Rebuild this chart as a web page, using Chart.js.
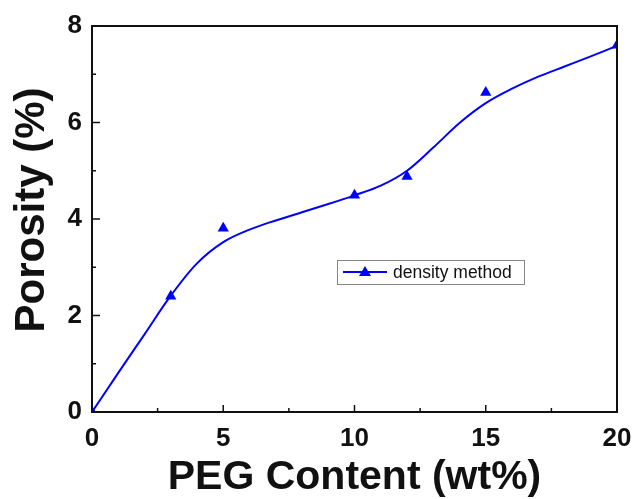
<!DOCTYPE html>
<html>
<head>
<meta charset="utf-8">
<script src="https://cdn.jsdelivr.net/npm/chart.js@4.4.0/dist/chart.umd.min.js"></script>
<style>
  html, body { margin: 0; padding: 0; background: #fff; }
</style>
</head>
<body>
<canvas id="chart1" width="637" height="499"></canvas>
<script>
// measured points (density method)
const pegContent = [0, 3, 5, 10, 12, 15, 20];
const porosity = [0, 2.4, 3.81, 4.49, 4.88, 6.62, 7.6];

// smooth curve
const fitX = [0, 1, 2, 3, 4, 5, 6, 7, 8, 9, 10, 11, 12, 13, 14, 15, 16, 17, 18, 19, 20];
const fitY = [0, 0.81, 1.61, 2.41, 3.08, 3.52, 3.78, 3.97, 4.14, 4.31, 4.49, 4.69, 5.0, 5.48, 5.99, 6.4, 6.7, 6.95, 7.16, 7.37, 7.59];

const xTicks = [0, 5, 10, 15, 20];
const yTicks = [0, 2, 4, 6, 8];

const legendLabel = "density method";
const xTitle = "PEG Content (wt%)";
const yTitle = "Porosity (%)";

const blue = "#0000FF";
const fontFamily = "'Liberation Sans', Arial, sans-serif";

let measured = pegContent.map(function (x, i) { return { x: x, y: porosity[i] }; });
let curve = fitX.map(function (x, i) { return { x: x, y: fitY[i] }; });

// frame, inward ticks, y title and the legend box
const framePlugin = {
    id: "frame",
    afterDraw(chart) {
        const ctx = chart.ctx;
        const a = chart.chartArea;
        const xs = chart.scales.x;
        const ys = chart.scales.y;
        ctx.save();
        ctx.strokeStyle = "#111";
        ctx.lineWidth = 2;
        ctx.beginPath();
        ctx.moveTo(a.left, a.top);
        ctx.lineTo(a.right, a.top);
        ctx.lineTo(a.right, a.bottom);
        ctx.stroke();

        // major + minor ticks pointing inward
        ctx.lineWidth = 1.5;
        ctx.beginPath();
        for (let i = 0; i < xTicks.length; i++) {
            let px = xs.getPixelForValue(xTicks[i]);
            ctx.moveTo(px, a.bottom);
            ctx.lineTo(px, a.bottom - 7);
            if (i < xTicks.length - 1) {
                let mx = xs.getPixelForValue((xTicks[i] + xTicks[i + 1]) / 2);
                ctx.moveTo(mx, a.bottom);
                ctx.lineTo(mx, a.bottom - 4);
            }
        }
        for (let i = 0; i < yTicks.length; i++) {
            let py = ys.getPixelForValue(yTicks[i]);
            ctx.moveTo(a.left, py);
            ctx.lineTo(a.left + 8, py);
            if (i < yTicks.length - 1) {
                let my = ys.getPixelForValue((yTicks[i] + yTicks[i + 1]) / 2);
                ctx.moveTo(a.left, my);
                ctx.lineTo(a.left + 4, my);
            }
        }
        ctx.stroke();

        // y axis title, a bit above the middle like the original
        ctx.save();
        ctx.translate(32, (a.top + a.bottom) / 2 - 9);
        ctx.rotate(-Math.PI / 2);
        ctx.fillStyle = "#111";
        ctx.font = "bold 42px " + fontFamily;
        ctx.textAlign = "center";
        ctx.textBaseline = "middle";
        ctx.fillText(yTitle, 0, 0);
        ctx.restore();

        // legend
        let bx = 337, by = 260, bw = 187, bh = 24;
        ctx.strokeStyle = "#888";
        ctx.lineWidth = 1;
        ctx.strokeRect(bx + 0.5, by + 0.5, bw, bh);
        let cy = by + 12;
        ctx.strokeStyle = blue;
        ctx.lineWidth = 2;
        ctx.beginPath();
        ctx.moveTo(bx + 6, cy);
        ctx.lineTo(bx + 50, cy);
        ctx.stroke();
        ctx.fillStyle = blue;
        ctx.beginPath();
        ctx.moveTo(bx + 28, cy - 6);
        ctx.lineTo(bx + 34, cy + 4);
        ctx.lineTo(bx + 22, cy + 4);
        ctx.closePath();
        ctx.fill();
        ctx.fillStyle = "#111";
        ctx.font = "17.5px " + fontFamily;
        ctx.textBaseline = "middle";
        ctx.fillText(legendLabel, bx + 56, cy + 1);
        ctx.restore();
    }
};

let chart1 = new Chart(document.getElementById("chart1"), {
    type: "scatter",
    data: {
        datasets: [
            {
                label: "fit",
                data: curve,
                showLine: true,
                borderColor: blue,
                borderWidth: 2,
                pointRadius: 0,
                cubicInterpolationMode: "monotone",
                fill: false
            },
            {
                label: legendLabel,
                data: measured,
                showLine: false,
                pointStyle: "triangle",
                pointRadius: 6.5,
                backgroundColor: blue,
                borderColor: blue,
                borderWidth: 0
            }
        ]
    },
    options: {
        responsive: false,
        animation: false,
        layout: { padding: { left: 0, right: 20, top: 26, bottom: 0 } },
        plugins: {
            legend: { display: false },
            tooltip: { enabled: false }
        },
        scales: {
            x: {
                type: "linear",
                min: 0,
                max: 20,
                afterFit: function (s) { s.height = 87; s.paddingRight = 0; s.paddingLeft = 0; },
                afterBuildTicks: function (s) { s.ticks = xTicks.map(function (v) { return { value: v }; }); },
                grid: { display: false, drawTicks: false },
                border: { display: true, color: "#111", width: 2 },
                ticks: {
                    padding: 11,
                    color: "#111",
                    font: { family: fontFamily, size: 26, weight: "bold" }
                },
                title: {
                    display: true,
                    text: xTitle,
                    color: "#111",
                    padding: { top: 0, bottom: 1 },
                    font: { family: fontFamily, size: 41, weight: "bold", lineHeight: 1 }
                }
            },
            y: {
                type: "linear",
                min: 0,
                max: 8,
                afterFit: function (s) { s.width = 92; s.paddingTop = 0; s.paddingBottom = 0; },
                afterBuildTicks: function (s) { s.ticks = yTicks.map(function (v) { return { value: v }; }); },
                grid: { display: false, drawTicks: false },
                border: { display: true, color: "#111", width: 2 },
                ticks: {
                    padding: 10,
                    color: "#111",
                    font: { family: fontFamily, size: 26, weight: "bold" }
                },
                title: { display: false }
            }
        }
    },
    plugins: [framePlugin]
});
</script>
</body>
</html>
